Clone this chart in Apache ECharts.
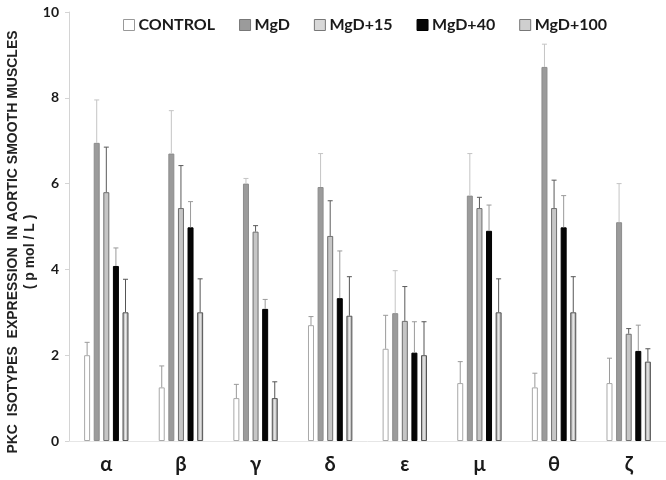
<!DOCTYPE html>
<html><head><meta charset="utf-8">
<script src="https://cdn.jsdelivr.net/npm/echarts@6/dist/echarts.min.js"></script>
<style>html,body{margin:0;padding:0;background:#fff}#c{width:666px;height:480px}</style>
</head><body><div id="c"></div>
<script>
const categories = ['α','β','γ','δ','ε','μ','θ','ζ'];
const seriesNames = ['CONTROL','MgD','MgD+15','MgD+40','MgD+100'];
const control   = [2.0, 1.25, 1.0, 2.7, 2.15, 1.35, 1.25, 1.35];
const mgd       = [6.95, 6.7, 6.0, 5.92, 2.98, 5.72, 8.72, 5.1];
const mgd15     = [5.8, 5.43, 4.88, 4.78, 2.8, 5.43, 5.43, 2.5];
const mgd40     = [4.08, 4.98, 3.08, 3.33, 2.06, 4.9, 4.98, 2.1];
const mgd100    = [3.0, 3.0, 1.0, 2.92, 2.0, 3.0, 3.0, 1.85];
const controlErr = [0.3, 0.5, 0.32, 0.2, 0.78, 0.5, 0.33, 0.58];
const mgdErr     = [1.0, 1.0, 0.12, 0.78, 0.99, 0.98, 0.53, 0.9];
const mgd15Err   = [1.05, 0.99, 0.14, 0.82, 0.8, 0.25, 0.65, 0.12];
const mgd40Err   = [0.42, 0.6, 0.22, 1.1, 0.72, 0.6, 0.74, 0.6];
const mgd100Err  = [0.77, 0.78, 0.38, 0.91, 0.78, 0.78, 0.83, 0.3];
const yTicks = [0, 2, 4, 6, 8, 10];

const values = [control, mgd, mgd15, mgd40, mgd100];
const errs = [controlErr, mgdErr, mgd15Err, mgd40Err, mgd100Err];
const BW = 6, GAP = 0.6, PITCH = BW * (1 + GAP);
const styles = [
  {color:'#ffffff', borderColor:'#a8a8a8', borderWidth:1},
  {color:'#9b9b9b', borderColor:'#8c8c8c', borderWidth:1},
  {color:'#c6c6c6', borderColor:'#6e6e6e', borderWidth:1},
  {color:'#050505', borderColor:'#000', borderWidth:1},
  {color:{type:'linear',x:0,y:0,x2:1,y2:0,colorStops:[{offset:0,color:'#8a8a8a'},{offset:0.5,color:'#ececec'},{offset:1,color:'#8a8a8a'}]}, borderColor:'#555', borderWidth:1}
];
const errColors = ['#9a9a9a','#c4c4c4','#5a5a5a','#9a9a9a','#555555'];
const legendColors = ['#ffffff','#9b9b9b','#d8d8d8','#050505','#cfcfcf'];

const series = [];
seriesNames.forEach((n, i) => {
  series.push({
    name: n, type: 'bar', data: values[i], barWidth: BW, barGap: (GAP*100)+'%',
    itemStyle: styles[i], z: 2
  });
});
seriesNames.forEach((n, i) => {
  series.push({
    name: 'err' + i, type: 'custom', z: 3,
    data: values[i].map((v, k) => [k, v, v + errs[i][k]]),
    renderItem: function (params, api) {
      const base = api.coord([api.value(0), api.value(1)]);
      const top = api.coord([api.value(0), api.value(2)]);
      const x = base[0] + (i - 2) * PITCH;
      const st = {stroke: errColors[i], lineWidth: 1};
      return {type:'group', children:[
        {type:'line', shape:{x1:x, y1:base[1], x2:x, y2:top[1]}, style:st},
        {type:'line', shape:{x1:x-2.5, y1:top[1], x2:x+2.5, y2:top[1]}, style:st}
      ]};
    }
  });
});

const chart = echarts.init(document.getElementById('c'));
chart.setOption({
  animation: false,
  backgroundColor: '#fff',
  grid: {left: 69, width: 608, top: 12, bottom: 39, containLabel: false},
  legend: {
    data: seriesNames.map((n, i) => ({name: n, itemStyle: {color: legendColors[i], borderColor: i===0?'#999':(i===3?'#000':'#777'), borderWidth: 1}})),
    top: 12, left: 118, itemWidth: 11, itemHeight: 11, itemGap: 24,
    icon: 'rect',
    textStyle: {fontFamily: 'Lato, "Liberation Sans", sans-serif', fontWeight: 'bold', fontSize: 16, color: '#1a1a1a', padding:[0,0,0,-1]}
  },
  xAxis: {
    type: 'category', data: categories,
    axisLine: {show: true, lineStyle: {color: '#e6e6e6'}},
    axisTick: {show: false},
    axisLabel: {margin: 14, fontSize: 20, fontWeight: 'bold', color: '#1a1a1a', fontFamily: 'Lato, "DejaVu Sans", sans-serif'}
  },
  yAxis: {
    type: 'value', min: yTicks[0], max: yTicks[yTicks.length-1], interval: 2,
    splitLine: {show: false},
    axisLine: {show: true, lineStyle: {color: '#d4d4d4'}},
    axisTick: {show: true, length: 4, lineStyle: {color: '#d4d4d4'}},
    axisLabel: {margin: 10, fontSize: 14, fontWeight: 'bold', color: '#1a1a1a', fontFamily: 'Lato, "Liberation Sans", sans-serif'}
  },
  graphic: [
    {type:'text', x: 13, y: 242, rotation: Math.PI/2,
     style:{text:'PKC  ISOTYPES  EXPRESSION  IN AORTIC SMOOTH MUSCLES', fill:'#222', font:'bold 14px "Liberation Sans", Arial, sans-serif', textAlign:'center', textVerticalAlign:'middle'}},
    {type:'text', x: 30, y: 252, rotation: Math.PI/2,
     style:{text:'( p mol / L )', fill:'#222', font:'bold 14px "Liberation Sans", Arial, sans-serif', textAlign:'center', textVerticalAlign:'middle'}}
  ],
  series: series
});
</script></body></html>
